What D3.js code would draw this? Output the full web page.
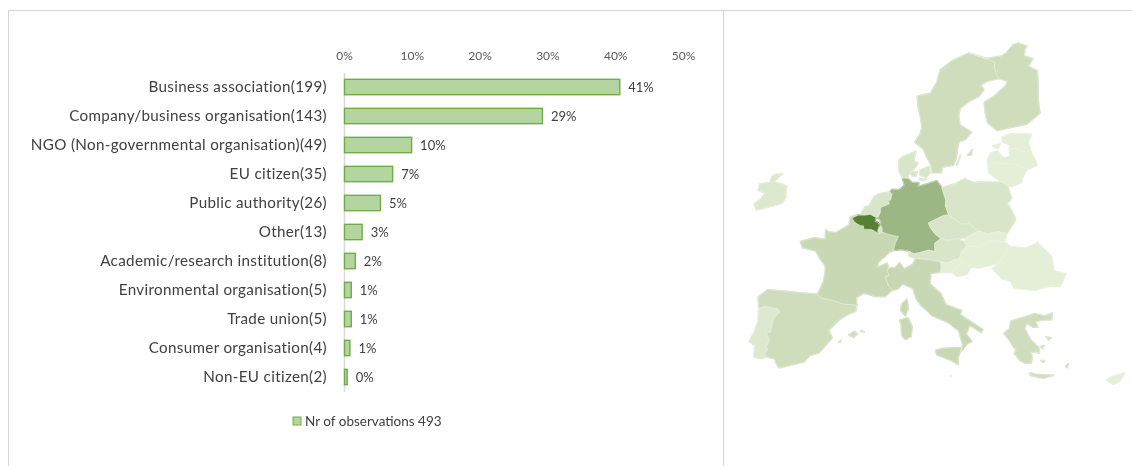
<!DOCTYPE html>
<html>
<head>
<meta charset="utf-8">
<script src="https://d3js.org/d3.v7.min.js"></script>
<style>
  html, body { margin: 0; padding: 0; background: #fff; }
  text { font-family: Lato, "Open Sans", sans-serif; }
</style>
</head>
<body>
<svg id="chart" width="1132" height="466"></svg>
<script>
// chart data
var categories = ['Business association(199)', 'Company/business organisation(143)',
  'NGO (Non-governmental organisation)(49)', 'EU citizen(35)', 'Public authority(26)', 'Other(13)',
  'Academic/research institution(8)', 'Environmental organisation(5)', 'Trade union(5)',
  'Consumer organisation(4)', 'Non-EU citizen(2)'];
var shares = [40.6, 29.2, 9.9, 7.1, 5.3, 2.6, 1.6, 1.0, 1.0, 0.8, 0.4];
var shareLabels = ['41%', '29%', '10%', '7%', '5%', '3%', '2%', '1%', '1%', '1%', '0%'];
var axisTicks = [0, 10, 20, 30, 40, 50];
var legendLabel = 'Nr of observations 493';

// map outlines, lon/lat
var portugal = [[[-8.9,41.9],[-8.2,42.1],[-6.6,41.95],[-6.2,41.6],[-6.9,41.0],[-6.9,40.3],[-7.0,39.7],[-7.5,39.6],[-7.0,39.0],[-7.2,38.3],[-7.0,38.0],[-7.3,37.7],[-7.1,37.4],[-7.6,37.2],[-8.5,37.3],[-8.6,38.0],[-8.6,38.4],[-9.4,38.75],[-9.0,39.6],[-8.7,40.7]]];
var spain = [[[-9.2,43.0],[-8.1,43.7],[-6,43.6],[-3.8,43.45],[-1.8,43.38],[-1.4,43.05],[0.7,42.7],[1.7,42.45],[3.2,42.4],[3.1,41.8],[2.2,41.5],[1.2,41.0],[0.0,40.0],[0.5,39.3],[-0.5,38.3],[-0.9,37.9],[-2.0,37.6],[-2.6,37.0],[-4.7,36.55],[-5.4,36.4],[-5.9,36.9],[-6.0,37.2],[-7.1,37.4],[-7.3,37.7],[-7.0,38.0],[-7.2,38.3],[-7.0,39.0],[-7.5,39.6],[-7.0,39.7],[-6.9,40.3],[-6.9,41.0],[-6.2,41.6],[-6.6,41.95],[-8.2,42.1],[-8.9,41.9]],
  [[2.4,39.6],[3.1,39.95],[3.45,39.7],[3.0,39.35]], [[3.85,40.05],[4.3,39.9],[3.9,39.9]], [[1.25,38.95],[1.6,39.1],[1.5,38.9]]];
var france = [[[2.55,51.08],[2.9,50.7],[3.3,50.5],[3.7,50.35],[4.2,50.3],[4.2,49.98],[4.8,49.95],[5.8,49.55],[6.37,49.47],[7.0,49.15],[8.2,48.97],[7.8,48.3],[7.55,47.6],[7.0,47.4],[5.6,46.4],[5.6,46.0],[6.8,46.4],[7.0,45.9],[6.8,45.7],[7.1,45.2],[6.6,45.1],[7.0,44.3],[7.5,43.8],[6.6,43.2],[5.4,43.2],[4.6,43.4],[3.9,43.5],[3.1,43.1],[3.2,42.4],[1.7,42.45],[0.7,42.7],[-1.4,43.05],[-1.8,43.38],[-1.2,44.6],[-1.1,45.6],[-1.2,46.1],[-2.1,46.9],[-2.6,47.5],[-4.4,47.8],[-4.8,48.4],[-3.0,48.8],[-1.5,48.65],[-1.6,49.65],[-1.2,49.4],[-0.2,49.3],[0.2,49.5],[1.5,50.1],[1.6,50.9]],
  [[9.4,43.0],[9.55,42.1],[9.2,41.4],[8.6,41.9],[8.7,42.5]]];
var belgium = [[[1.85,50.78],[2.7,51.07],[3.6,51.07],[4.3,51.15],[5.1,50.85],[5.0,50.45],[5.4,50.35],[5.6,50.1],[5.5,49.85],[5.4,49.5],[5.6,49.25],[4.6,49.65],[3.5,49.68],[3.5,50.0],[3.0,50.05],[2.6,50.2],[2.2,50.4]]];
var luxembourg = [[[5.5,49.8],[6.1,50.15],[6.5,49.8],[6.37,49.47],[5.6,49.25]]];
var netherlands = [[[2.9,51.07],[3.5,51.9],[4.1,52.0],[4.7,52.95],[5.4,53.25],[6.9,53.45],[7.2,53.2],[7.05,52.6],[6.7,52.5],[6.9,52.2],[5.7,51.85],[5.7,51.4],[5.5,51.0],[5.1,50.85],[4.3,51.15],[3.6,51.07]]];
var germany = [[[6.9,53.45],[7.2,53.7],[8.1,53.65],[8.6,53.9],[8.9,54.1],[8.6,54.9],[9.4,54.85],[10.0,54.4],[11.0,54.4],[10.9,54.0],[12.3,54.3],[13.5,54.6],[14.2,53.9],[14.4,53.3],[14.7,52.6],[14.6,52.0],[15.0,51.1],[14.3,51.05],[12.2,50.3],[12.5,49.8],[13.0,49.3],[13.8,48.75],[13.0,48.3],[13.0,47.5],[12.2,47.65],[11.0,47.4],[10.2,47.3],[9.6,47.55],[8.6,47.7],[7.55,47.6],[7.8,48.3],[8.2,48.97],[7.0,49.15],[6.0,49.4],[6.0,49.8],[5.7,50.15],[5.8,50.4],[5.6,50.65],[5.3,50.75],[5.5,51.0],[5.7,51.4],[5.7,51.85],[6.9,52.2],[6.7,52.5],[7.05,52.6],[7.2,53.2]]];
var denmark = [[[8.6,54.9],[8.1,55.6],[8.1,56.8],[8.6,57.1],[10.6,57.75],[10.3,56.7],[10.9,56.4],[10.0,55.6],[9.5,55.2],[9.4,54.85]],
  [[11.1,55.7],[12.5,56.1],[12.6,55.4],[12.0,54.9],[11.1,55.2]], [[9.8,55.5],[10.8,55.5],[10.5,55.0],[9.9,55.1]], [[11.0,54.85],[12.0,54.75],[11.8,54.6],[11.1,54.65]]];
var sweden = [[[12.9,55.4],[14.2,55.4],[14.4,56.0],[16.0,56.2],[16.5,57.0],[16.7,57.9],[17.0,58.7],[18.0,59.0],[19.0,59.8],[17.3,60.6],[17.2,61.7],[17.5,62.5],[19.0,63.3],[20.5,63.8],[21.5,64.6],[21.0,65.2],[22.2,65.6],[24.1,65.8],[23.7,66.3],[23.5,67.2],[23.7,67.9],[22.3,68.5],[19.5,69.5],[16.5,68.5],[14.6,67.4],[14.0,65.8],[12.9,64.4],[10.8,64.1],[11.0,62.5],[11.3,61.5],[11.5,60.4],[11.2,59.6],[10.4,58.7],[11.6,58.0],[12.0,57.3],[12.7,56.3]],
  [[18.1,57.25],[18.9,57.9],[18.7,57.3]], [[16.4,56.2],[17.1,57.3],[16.6,56.3]]];
var finland = [[[24.1,65.8],[25.3,65.4],[25.0,64.9],[23.0,63.8],[21.3,63.1],[21.3,61.9],[21.5,60.8],[22.9,59.9],[25.0,60.2],[27.5,60.5],[29.8,61.6],[29.8,62.9],[30.0,63.8],[30.2,64.8],[30.4,66.2],[29.0,66.9],[30.0,67.7],[28.6,68.2],[28.9,69.05],[29.3,69.4],[28.0,70.08],[27.0,69.9],[25.7,68.9],[24.9,68.6],[22.3,68.5],[19.5,69.5],[23.7,67.9],[23.5,67.2],[23.7,66.3]]];
var estonia = [[[23.5,59.2],[25.0,59.55],[28.0,59.45],[27.4,58.7],[27.5,57.8],[26.5,57.55],[25.3,58.0],[24.4,58.0],[24.5,58.35],[23.5,58.7]], [[21.9,58.3],[23.2,58.5],[22.7,58.0]]];
var latvia = [[[21.0,56.8],[21.6,57.55],[22.6,57.75],[23.3,57.0],[24.3,57.1],[24.4,58.0],[25.3,58.0],[26.5,57.55],[27.5,57.8],[28.2,56.2],[26.6,55.7],[25.0,56.3],[22.0,56.4],[21.0,56.1]]];
var lithuania = [[[21.0,56.1],[22.0,56.4],[25.0,56.3],[26.6,55.7],[25.7,54.8],[25.5,54.3],[24.0,53.95],[23.5,54.0],[22.8,54.4],[21.3,55.2],[21.0,55.5]]];
var poland = [[[14.2,53.9],[16.2,54.3],[17.5,54.8],[18.7,54.4],[19.6,54.45],[22.8,54.4],[23.5,54.0],[23.9,52.7],[23.2,52.2],[23.7,51.5],[24.1,50.6],[22.7,49.2],[21.5,49.4],[20.0,49.2],[18.9,49.5],[17.7,50.2],[16.6,50.2],[15.0,51.1],[14.6,52.0],[14.7,52.6],[14.4,53.3]]];
var czechia = [[[12.2,50.3],[14.3,51.05],[15.0,51.1],[16.6,50.2],[17.7,50.2],[18.9,49.5],[17.2,48.85],[16.0,48.75],[14.7,48.6],[13.8,48.75],[13.0,49.3],[12.5,49.8]]];
var slovakia = [[[18.9,49.5],[20.0,49.2],[21.5,49.4],[22.7,49.2],[22.2,48.4],[20.5,48.5],[18.8,47.95],[17.15,48.0],[17.0,48.4],[17.2,48.85]]];
var austria = [[[13.0,48.3],[13.8,48.75],[14.7,48.6],[16.0,48.75],[17.0,48.4],[17.15,48.0],[16.5,47.5],[16.1,46.85],[14.5,46.4],[13.7,46.5],[12.4,46.7],[10.5,46.85],[9.6,47.05],[9.6,47.55],[10.2,47.3],[11.0,47.4],[12.2,47.65],[13.0,47.5]]];
var hungary = [[[17.15,48.0],[18.8,47.95],[20.5,48.5],[22.2,48.4],[22.9,47.95],[21.2,46.3],[20.2,46.15],[18.8,45.9],[17.6,45.95],[16.6,46.5],[16.1,46.85],[16.5,47.5]]];
var slovenia = [[[13.7,46.5],[14.5,46.4],[16.1,46.85],[16.6,46.5],[15.5,45.85],[15.2,45.45],[13.6,45.5],[13.7,45.9]]];
var croatia = [[[15.5,45.85],[16.6,46.5],[17.6,45.95],[17.0,45.3],[15.8,45.1],[15.2,45.45]]];
var romania = [[[22.9,47.95],[24.9,47.75],[26.6,48.25],[28.2,46.9],[28.2,45.5],[29.7,45.2],[28.7,44.0],[27.5,44.05],[25.5,43.7],[22.9,43.9],[22.5,44.6],[21.4,44.85],[20.3,45.8],[21.2,46.3]]];
var greece = [[[21.0,39.7],[21.7,38.9],[22.0,38.4],[22.3,38.2],[22.0,37.8],[22.6,37.15],[23.2,36.85],[23.9,36.9],[24.1,37.5],[23.9,37.9],[24.5,37.9],[25.0,37.8],[25.0,38.3],[24.2,39.0],[23.9,39.5],[23.6,40.1],[23.9,40.6],[24.6,40.2],[25.2,40.2],[25.0,40.7],[25.8,40.85],[27.0,40.85],[27.2,41.5],[26.2,41.25],[25.0,41.5],[23.7,41.2],[22.0,40.85],[21.7,40.1]],
  [[23.6,36.0],[24.3,35.85],[26.3,35.7],[25.0,35.45],[23.6,35.75]], [[27.8,36.5],[28.2,36.75],[28.0,36.35]], [[26.0,39.3],[26.6,39.2],[26.3,38.95]], [[25.2,38.4],[25.7,38.5],[25.4,38.2]], [[25.0,37.1],[25.5,37.1],[25.3,36.9]]];
var italy = [[[7.5,43.8],[7.0,44.3],[6.6,45.1],[7.1,45.2],[6.8,45.7],[7.0,45.9],[7.9,46.0],[8.4,46.45],[9.0,45.85],[10.1,46.3],[10.5,46.85],[12.4,46.7],[13.7,46.5],[13.7,45.9],[13.6,45.5],[12.4,45.4],[12.3,44.4],[13.6,43.5],[14.2,42.45],[16.1,41.9],[15.9,41.5],[18.5,40.1],[18.3,39.8],[17.0,40.5],[16.5,39.7],[17.15,39.0],[16.6,38.8],[15.65,37.95],[16.0,38.7],[15.6,40.0],[14.3,40.8],[12.5,41.4],[11.1,42.4],[10.5,43.0],[10.1,44.0],[8.8,44.4],[8.2,43.9]],
  [[12.75,38.2],[13.7,38.4],[15.9,38.45],[15.4,37.5],[15.4,36.85],[14.7,37.2],[12.9,37.8]],
  [[8.5,41.0],[9.5,41.25],[10.05,40.4],[9.9,39.5],[9.2,39.2],[8.75,39.6],[8.7,40.5]]];
var ireland = [[[-9.8,55.15],[-8.6,55.3],[-8.9,55.0],[-9.7,54.4],[-8.5,54.2],[-7.7,54.0],[-7.7,53.4],[-7.6,52.8],[-8.0,52.2],[-9.8,51.8],[-11.4,51.45],[-11.9,52.1],[-11.1,52.6],[-10.6,53.2],[-11.7,53.5],[-11.6,54.2],[-10.2,54.35],[-10.1,54.9]]];
var cyprus = [[[32.3,35.05],[33.0,35.35],[34.55,35.65],[33.9,35.0],[33.0,34.6]]];
var malta = [[[14.35,35.9],[14.55,35.85],[14.45,35.8]]];

var countryNames = ['Portugal', 'Spain', 'France', 'Luxembourg', 'Netherlands', 'Germany', 'Denmark', 'Sweden', 'Finland',
  'Estonia', 'Latvia', 'Lithuania', 'Poland', 'Czechia', 'Slovakia', 'Austria', 'Hungary', 'Slovenia', 'Croatia',
  'Romania', 'Greece', 'Italy', 'Ireland', 'Cyprus', 'Malta', 'Belgium'];
var countryShapes = [portugal, spain, france, luxembourg, netherlands, germany, denmark, sweden, finland,
  estonia, latvia, lithuania, poland, czechia, slovakia, austria, hungary, slovenia, croatia,
  romania, greece, italy, ireland, cyprus, malta, belgium];
// relative share of answers per country, estimated from the shading
var countryShades = [0.07, 0.17, 0.22, 0.1, 0.1, 0.52, 0.1, 0.17, 0.17,
  0.02, 0.02, 0.02, 0.1, 0.1, 0.02, 0.1, 0.02, 0.02, 0.02,
  0.02, 0.17, 0.22, 0.07, 0.02, 0.02, 1];

var svg = d3.select('#chart');
var defs = svg.append('defs');
defs.append('filter').attr('id', 'soft').append('feGaussianBlur').attr('stdDeviation', 0.45);
defs.append('filter').attr('id', 'softer').append('feGaussianBlur').attr('stdDeviation', 0.3);

// frame
var frame = svg.append('g').attr('fill', 'none').attr('stroke', '#d4d4d4').attr('stroke-width', 1);
frame.append('path').attr('d', d3.line()([[8.5, 466], [8.5, 10.5], [1132, 10.5]]));
frame.append('path').attr('d', d3.line()([[723.5, 10.5], [723.5, 466]]));

// bar chart
var chart = svg.append('g').attr('filter', 'url(#softer)');
var x = d3.scaleLinear().domain([0, 50]).range([344, 683]);
var y = d3.scaleBand().domain(categories).range([72.5, 391.5]).paddingInner(0.47).paddingOuter(0.235);

var topAxis = chart.append('g').attr('transform', 'translate(0,56)')
  .call(d3.axisTop(x).tickValues(axisTicks).tickSize(0).tickPadding(0).tickFormat(function(d){ return d + '%'; }));
topAxis.select('.domain').remove();
topAxis.selectAll('text').attr('dy', '0.36em').attr('fill', '#595959').style('font-size', '12px');

var leftAxis = chart.append('g').attr('transform', 'translate(344,0)')
  .call(d3.axisLeft(y).tickSize(0).tickPadding(17));
leftAxis.select('.domain').attr('stroke', '#d9d9d9').attr('stroke-width', 1.5);
leftAxis.selectAll('text').attr('fill', '#404040').style('font-size', '15.2px').style('letter-spacing', '0.33px');

chart.append('g').selectAll('rect').data(shares).enter().append('rect')
  .attr('x', x(0) + 0.5)
  .attr('y', function(d, i){ return y(categories[i]); })
  .attr('width', function(d){ return x(d) - x(0); })
  .attr('height', y.bandwidth())
  .attr('fill', '#b4d5a0')
  .attr('stroke', '#70ad47')
  .attr('stroke-width', 1.4);

chart.append('g').selectAll('text').data(shares).enter().append('text')
  .attr('x', function(d){ return x(d) + 9; })
  .attr('y', function(d, i){ return y(categories[i]) + y.bandwidth() / 2 + 0.5; })
  .attr('dy', '0.36em')
  .attr('fill', '#404040')
  .style('font-size', '13px')
  .text(function(d, i){ return shareLabels[i]; });

// legend
chart.append('rect').attr('x', 293).attr('y', 417).attr('width', 8).attr('height', 8)
  .attr('fill', '#b4d5a0').attr('stroke', '#70ad47');
chart.append('text').attr('x', 305).attr('y', 421).attr('dy', '0.36em')
  .attr('fill', '#404040').style('font-size', '13.5px').text(legendLabel);

// map
var base = d3.geoConicEqualArea().parallels([30, 30]).rotate([-10, 0]).center([0, 52])
  .scale(628).translate([0, 206]);
// source map is flatter and a bit narrower than the plain projection
var flatten = d3.scaleLinear().domain([0, 20]).range([0, 12]);
var flattenNorth = d3.scaleLinear().domain([58, 69]).range([1, 0]).clamp(true);
var mapProjection = d3.geoTransform({
  point: function(lon, lat) {
    var p = base([lon, lat]);
    var dist = Math.abs(lon - 10);
    this.stream.point(912 + p[0] * 0.975, p[1] + flatten(dist) * dist / 20 * flattenNorth(lat));
  }
});
var mapPath = d3.geoPath(mapProjection);
var shade = d3.scaleLinear().domain([0, 1]).range(['#e8f0da', '#558232']);

function outline(d){
  return mapPath({type: 'MultiPolygon', coordinates: d.map(function(ring){
    return [ring.concat([ring[0]])];
  })});
}

var mapLayer = svg.append('g').attr('filter', 'url(#soft)');
// wider pass under the borders, small coasts and islands read too thin otherwise
mapLayer.append('g').selectAll('path').data(countryShapes).enter().append('path')
  .attr('d', outline)
  .attr('fill', function(d, i){ return shade(countryShades[i]); })
  .attr('stroke', function(d, i){ return shade(countryShades[i]); })
  .attr('stroke-width', 1.4)
  .attr('stroke-linejoin', 'round');
mapLayer.append('g').selectAll('path').data(countryShapes).enter().append('path')
  .attr('class', function(d, i){ return 'country ' + countryNames[i]; })
  .attr('d', outline)
  .attr('fill', function(d, i){ return shade(countryShades[i]); })
  .attr('stroke', '#eef2e4')
  .attr('stroke-width', 0.5)
  .attr('stroke-linejoin', 'round');
</script>
</body>
</html>
